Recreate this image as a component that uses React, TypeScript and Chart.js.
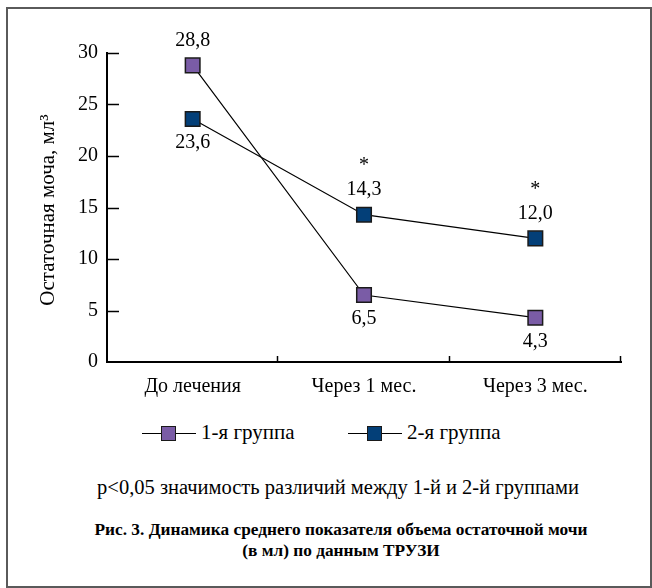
import React, { useEffect, useRef } from 'react';
import { Chart, registerables } from 'chart.js';

Chart.register(...registerables);

const categories = ['До лечения', 'Через 1 мес.', 'Через 3 мес.'];
const group1 = [28.8, 6.5, 4.3];
const group2 = [23.6, 14.3, 12.0];
const group1Labels = ['28,8', '6,5', '4,3'];
const group2Labels = ['23,6', '14,3', '12,0'];
const group1LabelSide = ['above', 'below', 'below'];
const group2LabelSide = ['below', 'above', 'above'];
const significant = [false, true, true];
const seriesNames = ['1-я группа', '2-я группа'];
const yTickValues = [0, 5, 10, 15, 20, 25, 30];
const yAxisTitle = 'Остаточная моча, мл³';
const noteText = 'p<0,05 значимость различий между 1-й и 2-й группами';
const captionLines = [
  'Рис. 3. Динамика среднего показателя объема остаточной мочи',
  '(в мл) по данным ТРУЗИ',
];

const PURPLE = '#7a5ca6';
const NAVY = '#033f78';
const MARKER_BORDER = '#1a1a1a';
const FONT = '"Liberation Serif", "Times New Roman", Times, Tinos, "DejaVu Serif", "Noto Serif", serif';

const W = 652;
const CH = 400;

export default function App() {
  const ref = useRef<HTMLCanvasElement | null>(null);

  useEffect(() => {
    document.body.style.margin = '0';
    const canvas = ref.current;
    if (!canvas) return;
    Chart.defaults.font.family = FONT;

    const overlay = {
      id: 'overlay',
      afterDraw(chart: any) {
        const ctx = chart.ctx as CanvasRenderingContext2D;
        const xs = chart.scales.x;
        const ys = chart.scales.y;
        const area = chart.chartArea;
        ctx.save();
        ctx.strokeStyle = '#000';
        ctx.lineWidth = 1.5;
        yTickValues.forEach((v) => {
          if (v === 0) return;
          const y = Math.round(ys.getPixelForValue(v)) + 0.5;
          ctx.beginPath();
          ctx.moveTo(area.left, y);
          ctx.lineTo(area.left + 12, y);
          ctx.stroke();
        });
        const bx: number[] = [];
        for (let i = 1; i < categories.length; i++) {
          bx.push((xs.getPixelForValue(i - 1) + xs.getPixelForValue(i)) / 2);
        }
        bx.push(area.right);
        bx.forEach((x) => {
          const px = Math.round(x) - 0.5;
          ctx.beginPath();
          ctx.moveTo(px, area.bottom);
          ctx.lineTo(px, area.bottom - 6);
          ctx.stroke();
        });
        ctx.fillStyle = '#000';
        ctx.font = `20px ${FONT}`;
        ctx.textAlign = 'center';
        ctx.textBaseline = 'middle';
        const drawLabels = (data: number[], labels: string[], sides: string[], isG2: boolean) => {
          data.forEach((v, i) => {
            const x = xs.getPixelForValue(i);
            const y = ys.getPixelForValue(v);
            const ly = sides[i] === 'above' ? y - 25 : y + 24;
            ctx.fillText(labels[i], x, ly);
            if (isG2 && significant[i]) {
              ctx.fillText('*', x, ly - 24);
            }
          });
        };
        drawLabels(group1, group1Labels, group1LabelSide, false);
        drawLabels(group2, group2Labels, group2LabelSide, true);
        ctx.save();
        ctx.translate(48, 210);
        ctx.rotate(-Math.PI / 2);
        ctx.font = `21px ${FONT}`;
        ctx.fillText(yAxisTitle, 0, 0);
        ctx.restore();
        ctx.restore();
      },
    };

    const chart = new Chart(canvas, {
      type: 'line',
      data: {
        labels: categories,
        datasets: [
          {
            label: seriesNames[0],
            data: group1,
            borderColor: '#000',
            borderWidth: 1.2,
            pointStyle: 'rect',
            pointRadius: 10.3,
            pointHoverRadius: 10.3,
            pointBackgroundColor: PURPLE,
            pointBorderColor: MARKER_BORDER,
            pointBorderWidth: 1.5,
            tension: 0,
            fill: false,
            clip: false as any,
          },
          {
            label: seriesNames[1],
            data: group2,
            borderColor: '#000',
            borderWidth: 1.2,
            pointStyle: 'rect',
            pointRadius: 10.3,
            pointHoverRadius: 10.3,
            pointBackgroundColor: NAVY,
            pointBorderColor: MARKER_BORDER,
            pointBorderWidth: 1.5,
            tension: 0,
            fill: false,
            clip: false as any,
          },
        ],
      },
      options: {
        responsive: false,
        animation: false,
        devicePixelRatio: 1,
        events: [],
        layout: { padding: { top: 53, right: 31, bottom: 0, left: 0 } },
        plugins: {
          legend: { display: false },
          tooltip: { enabled: false },
          title: { display: false },
        },
        scales: {
          x: {
            type: 'category',
            offset: true,
            grid: { display: false, drawTicks: false },
            border: { display: true, color: '#000', width: 2 },
            ticks: { color: '#000', font: { size: 20, family: FONT }, padding: 13, maxRotation: 0, autoSkip: false },
            afterFit: (s: any) => {
              s.height = CH - 362;
            },
          },
          y: {
            min: 0,
            max: 30,
            grid: { display: false, drawTicks: false },
            border: { display: true, color: '#000', width: 2 },
            ticks: { color: '#000', font: { size: 20, family: FONT }, padding: 9, stepSize: 5 },
            afterFit: (s: any) => {
              s.width = 107;
            },
          },
        },
      },
      plugins: [overlay],
    } as any);

    return () => chart.destroy();
  }, []);

  const legendItem = (left: number, color: string, text: string) => (
    <div style={{ position: 'absolute', left, top: 423, height: 20, width: 200 }}>
      <div style={{ position: 'absolute', left: 0, top: 9.5, width: 54, height: 1.2, background: '#000' }} />
      <div
        style={{
          position: 'absolute',
          left: 19,
          top: 2.5,
          width: 15,
          height: 15,
          boxSizing: 'border-box',
          background: color,
          border: `1.5px solid ${MARKER_BORDER}`,
        }}
      />
      <div style={{ position: 'absolute', left: 59, top: -3, fontFamily: FONT, fontSize: 21, lineHeight: '25px', whiteSpace: 'nowrap', color: '#000' }}>
        {text}
      </div>
    </div>
  );

  return (
    <div style={{ position: 'relative', width: W, height: 588, overflow: 'hidden', background: '#fff' }}>
      <div
        style={{
          position: 'absolute',
          left: 6,
          top: 7,
          width: W - 6,
          height: 581,
          boxSizing: 'border-box',
          border: '2px solid #5a5a5a',
        }}
      />
      <canvas ref={ref} width={W} height={CH} style={{ position: 'absolute', left: 0, top: 0, width: W, height: CH }} />
      {legendItem(142, PURPLE, seriesNames[0])}
      {legendItem(348, NAVY, seriesNames[1])}
      <div
        style={{
          position: 'absolute',
          left: 0,
          width: 676,
          top: 475,
          textAlign: 'center',
          fontFamily: FONT,
          fontSize: 20.5,
          lineHeight: '25px',
          color: '#000',
          whiteSpace: 'nowrap',
        }}
      >
        {noteText}
      </div>
      <div
        style={{
          position: 'absolute',
          left: 0,
          width: 682,
          top: 519,
          textAlign: 'center',
          fontFamily: FONT,
          fontSize: 17.3,
          fontWeight: 'bold',
          lineHeight: '21px',
          color: '#000',
          whiteSpace: 'nowrap',
        }}
      >
        {captionLines.map((l, i) => (
          <div key={i}>{l}</div>
        ))}
      </div>
    </div>
  );
}
